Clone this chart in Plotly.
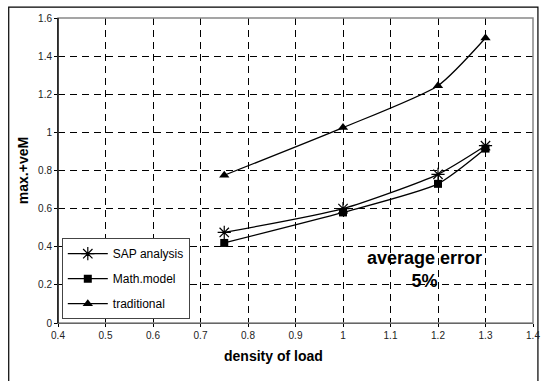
import plotly.graph_objects as go

density = [0.75, 1.0, 1.2, 1.3]
sap_analysis = [0.475, 0.60, 0.78, 0.93]
math_model = [0.42, 0.58, 0.73, 0.915]
traditional = [0.775, 1.025, 1.245, 1.495]

x_ticks = [0.4, 0.5, 0.6, 0.7, 0.8, 0.9, 1.0, 1.1, 1.2, 1.3, 1.4]
x_labels = ["0.4", "0.5", "0.6", "0.7", "0.8", "0.9", "1", "1.1", "1.2", "1.3", "1.4"]
y_ticks = [0, 0.2, 0.4, 0.6, 0.8, 1.0, 1.2, 1.4, 1.6]
y_labels = ["0", "0.2", "0.4", "0.6", "0.8", "1", "1.2", "1.4", "1.6"]

FONT = "Liberation Sans, Arial, sans-serif"

fig = go.Figure()
series = [
    ("SAP analysis", sap_analysis, dict(symbol="asterisk-open", size=11, line=dict(width=1.2, color="black"), color="black")),
    ("Math.model", math_model, dict(symbol="square", size=8, color="black")),
    ("traditional", traditional, dict(symbol="triangle-up", size=9, color="black")),
]
for i, (name, vals, mk) in enumerate(series):
    fig.add_trace(go.Scatter(
        x=density, y=vals, name=name, mode="lines+markers",
        line=dict(color="black", width=1.3, shape="spline", smoothing=0.6),
        marker=mk, legendgroup=f"g{i}",
    ))

fig.update_layout(
    width=552, height=381,
    margin=dict(l=58, r=12, t=17, b=58),
    paper_bgcolor="white", plot_bgcolor="white",
    font=dict(family=FONT, color="black", size=10),
    showlegend=True,
    legend=dict(
        x=0.008, y=0.278, xanchor="left", yanchor="top",
        bgcolor="white", bordercolor="#444", borderwidth=1,
        font=dict(family=FONT, size=12, color="black"),
        tracegroupgap=6, itemwidth=40,
    ),
    xaxis=dict(
        range=[0.4, 1.4], tickvals=x_ticks, ticktext=x_labels,
        showgrid=True, gridcolor="black", griddash="7px,5px", gridwidth=1,
        showline=True, linecolor="black", linewidth=1,
        ticks="outside", ticklen=3, tickcolor="black",
        tickfont=dict(size=10, color="#222"),
        zeroline=False,
    ),
    yaxis=dict(
        range=[0, 1.6], tickvals=y_ticks, ticktext=y_labels,
        showgrid=True, gridcolor="black", griddash="7px,5px", gridwidth=1,
        showline=True, linecolor="black", linewidth=1,
        ticks="outside", ticklen=3, tickcolor="black",
        tickfont=dict(size=10, color="#222"),
        title=dict(text="<b>max.+veM</b>", font=dict(size=14), standoff=6),
        zeroline=False,
    ),
    shapes=[
        dict(type="rect", xref="paper", yref="paper", x0=0, x1=1, y0=0, y1=1,
             line=dict(color="#888", width=1.5), layer="above"),
        dict(type="line", xref="paper", yref="paper", x0=0, x1=0, y0=0, y1=1,
             line=dict(color="black", width=1.2), layer="above"),
        dict(type="rect", xref="paper", yref="paper",
             x0=(8 - 58) / 482, x1=(545 - 58) / 482,
             y0=-0.5, y1=(323 - 6) / 306,
             line=dict(color="black", width=1.2), layer="below"),
    ],
    annotations=[
        dict(text="<b>average error<br>5%</b>", xref="x", yref="y",
             x=1.172, y=0.282, showarrow=False,
             font=dict(size=18, family=FONT, color="black"), align="center"),
        dict(text="<b>density of load</b>", xref="paper", yref="paper",
             x=(277 - 58) / 482, y=(323 - 356) / 306, xanchor="center", yanchor="middle",
             showarrow=False, font=dict(size=14, family=FONT, color="black")),
    ],
)

fig.write_html("out.html")
